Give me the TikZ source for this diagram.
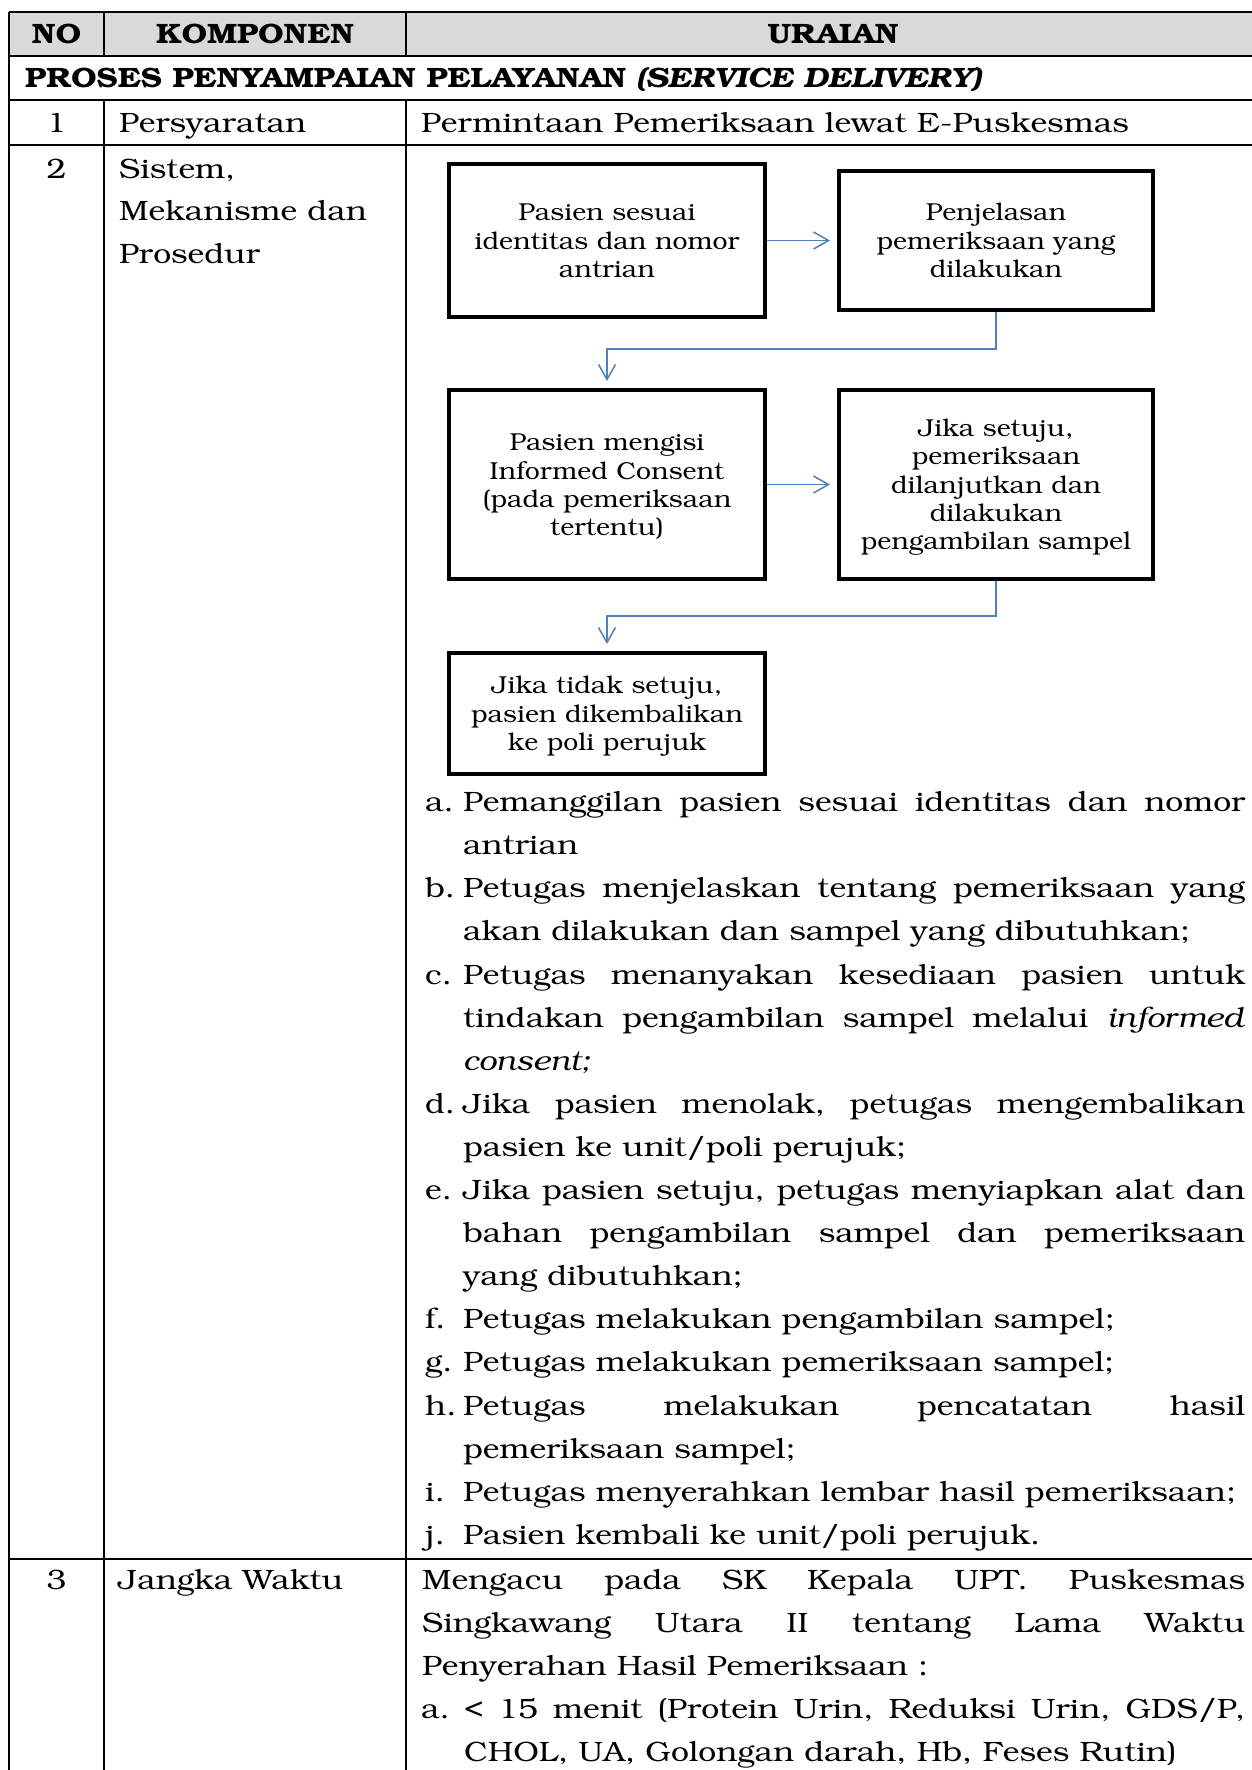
\documentclass[tikz,border=0pt]{standalone}
\usepackage[T1]{fontenc}
\usepackage{bookman}
\usepackage{graphicx}
\usetikzlibrary{arrows.meta}
\definecolor{flowblue}{HTML}{4F81BD}
\definecolor{headgray}{HTML}{D9D9D9}
\newcommand{\bodyfont}{\fontsize{28}{43}\selectfont}
\newcommand{\boxfont}{\fontsize{24.5}{28.3}\selectfont}
% widened setting of the body text
\newcommand{\hs}[1]{\scalebox{1.14}[1]{#1}}
% a justified line whose final width is #1 pt
\newcommand{\jline}[2]{\scalebox{1.14}[1]{\makebox[\dimexpr #1pt*100/114\relax][s]{#2}}}
% centred lines inside a flow box, set a little low
\newcommand{\boxtext}[1]{\raisebox{-3pt}[\height][\depth]{\scalebox{1.09}[1]{\begin{tabular}{@{}c@{}}#1\end{tabular}}}}
\frenchspacing
\begin{document}
\begin{tikzpicture}[x=1pt,y=-1pt,
  rule/.style={line width=1.6pt},
  cell/.style={anchor=base west, inner sep=0pt, font=\bodyfont},
  mid/.style={anchor=base, inner sep=0pt, font=\bodyfont},
  headcell/.style={anchor=base, inner sep=0pt, font=\bodyfont\bfseries},
  stepbox/.style={draw, line width=4pt, align=center, font=\boxfont, inner sep=0pt},
  flow/.style={draw=flowblue, line width=1.5pt, -{Straight Barb[length=15pt,width=17pt]}, shorten >=7pt}]
\useasboundingbox (0,0) rectangle (1252,1770);
\fill[white] (0,0) rectangle (1252,1770);

% table frame
\fill[headgray] (9,12) rectangle (1262,56);
\draw[rule] (9,12) -- (1262,12);
\draw[rule] (9,56) -- (1262,56);
\draw[rule] (9,100) -- (1262,100);
\draw[rule] (9,145) -- (1262,145);
\draw[rule] (9,1559) -- (1262,1559);
\draw[rule] (9,12) -- (9,1772);
\draw[rule] (104,12) -- (104,56);
\draw[rule] (406,12) -- (406,56);
\draw[rule] (104,100) -- (104,1772);
\draw[rule] (406,100) -- (406,1772);

% header
\node[headcell] (hno) at (56.5,43.5) {\hs{NO}};
\node[headcell] (hkomp) at (255,43.5) {\hs{KOMPONEN}};
\node[headcell] (hur) at (833,43.5) {\hs{URAIAN}};
\node[cell, font=\bodyfont\bfseries] (sect) at (25,87.5) {\hs{PROSES PENYAMPAIAN PELAYANAN \textit{(SERVICE DELIVERY)}}};

% row 1
\node[mid] (n1) at (56.5,132) {\hs{1}};
\node[cell] (k1) at (119,132) {\hs{Persyaratan}};
\node[cell] (u1) at (421,132) {\hs{Permintaan Pemeriksaan lewat E-Puskesmas}};

% row 2
\node[mid] (n2) at (56.5,178) {\hs{2}};
\node[cell] (k2a) at (119,178) {\hs{Sistem,}};
\node[cell] (k2b) at (119,220.5) {\hs{Mekanisme dan}};
\node[cell] (k2c) at (119,263) {\hs{Prosedur}};

% flow of the procedure
\node[stepbox, minimum width=316pt, minimum height=153pt] (box1) at (607,240.5)
  {\boxtext{Pasien sesuai\\identitas dan nomor\\antrian}};
\node[stepbox, minimum width=314pt, minimum height=139pt] (box2) at (996,240.5)
  {\boxtext{Penjelasan\\pemeriksaan yang\\dilakukan}};
\node[stepbox, minimum width=316pt, minimum height=189pt] (box3) at (607,484.5)
  {\boxtext{Pasien mengisi\\Informed Consent\\(pada pemeriksaan\\tertentu)}};
\node[stepbox, minimum width=314pt, minimum height=189pt] (box4) at (996,484.5)
  {\boxtext{Jika setuju,\\pemeriksaan\\dilanjutkan dan\\dilakukan\\pengambilan sampel}};
\node[stepbox, minimum width=316pt, minimum height=121pt] (box5) at (607,713.5)
  {\boxtext{Jika tidak setuju,\\pasien dikembalikan\\ke poli perujuk}};

\draw[flow] (box1) -- (box2);
\draw[flow] (box3) -- (box4);
\draw[flow] (box2.south) -- ++(0,37) -| (box3.north);
\draw[flow] (box4.south) -- ++(0,35) -| (box5.north);

% steps of row 2
\node[cell] (la) at (425,811.6) {\hs{a.}};
\node[cell] (ta1) at (463,811.6) {\jline{782}{Pemanggilan pasien sesuai identitas dan nomor}};
\node[cell] (ta2) at (463,854.7) {\hs{antrian}};
\node[cell] (lb) at (425,897.8) {\hs{b.}};
\node[cell] (tb1) at (463,897.8) {\jline{782}{Petugas menjelaskan tentang pemeriksaan yang}};
\node[cell] (tb2) at (463,940.9) {\hs{akan dilakukan dan sampel yang dibutuhkan;}};
\node[cell] (lc) at (425,984.0) {\hs{c.}};
\node[cell] (tc1) at (463,984.0) {\jline{782}{Petugas menanyakan kesediaan pasien untuk}};
\node[cell] (tc2) at (463,1027.1) {\jline{782}{tindakan pengambilan sampel melalui \textit{informed}}};
\node[cell] (tc3) at (463,1070.2) {\hs{\textit{consent;}}};
\node[cell] (ld) at (425,1113.3) {\hs{d.}};
\node[cell] (td1) at (463,1113.3) {\jline{782}{Jika pasien menolak, petugas mengembalikan}};
\node[cell] (td2) at (463,1156.4) {\hs{pasien ke unit/poli perujuk;}};
\node[cell] (le) at (425,1199.5) {\hs{e.}};
\node[cell] (te1) at (463,1199.5) {\jline{782}{Jika pasien setuju, petugas menyiapkan alat dan}};
\node[cell] (te2) at (463,1242.6) {\jline{782}{bahan pengambilan sampel dan pemeriksaan}};
\node[cell] (te3) at (463,1285.7) {\hs{yang dibutuhkan;}};
\node[cell] (lf) at (425,1328.8) {\hs{f.}};
\node[cell] (tf1) at (463,1328.8) {\hs{Petugas melakukan pengambilan sampel;}};
\node[cell] (lg) at (425,1371.9) {\hs{g.}};
\node[cell] (tg1) at (463,1371.9) {\hs{Petugas melakukan pemeriksaan sampel;}};
\node[cell] (lh) at (425,1415.0) {\hs{h.}};
\node[cell] (th1) at (463,1415.0) {\jline{782}{Petugas melakukan pencatatan hasil}};
\node[cell] (th2) at (463,1458.1) {\hs{pemeriksaan sampel;}};
\node[cell] (li) at (425,1501.2) {\hs{i.}};
\node[cell] (ti1) at (463,1501.2) {\hs{Petugas menyerahkan lembar hasil pemeriksaan;}};
\node[cell] (lj) at (425,1544.3) {\hs{j.}};
\node[cell] (tj1) at (463,1544.3) {\hs{Pasien kembali ke unit/poli perujuk.}};

% row 3
\node[mid] (n3) at (56.5,1589.5) {\hs{3}};
\node[cell] (k3) at (118,1589.5) {\hs{Jangka Waktu}};
\node[cell] (u3a) at (422,1589.5) {\jline{823}{Mengacu pada SK Kepala UPT. Puskesmas}};
\node[cell] (u3b) at (422,1632.6) {\jline{823}{Singkawang Utara II tentang Lama Waktu}};
\node[cell] (u3c) at (422,1675.7) {\hs{Penyerahan Hasil Pemeriksaan :}};
\node[cell] (l3a) at (421,1718.8) {\hs{a.}};
\node[cell] (u3d) at (464,1718.8) {\jline{781}{< 15 menit (Protein Urin, Reduksi Urin, GDS/P,}};
\node[cell] (u3e) at (464,1761.9) {\hs{CHOL, UA, Golongan darah, Hb, Feses Rutin)}};
\end{tikzpicture}
\end{document}
